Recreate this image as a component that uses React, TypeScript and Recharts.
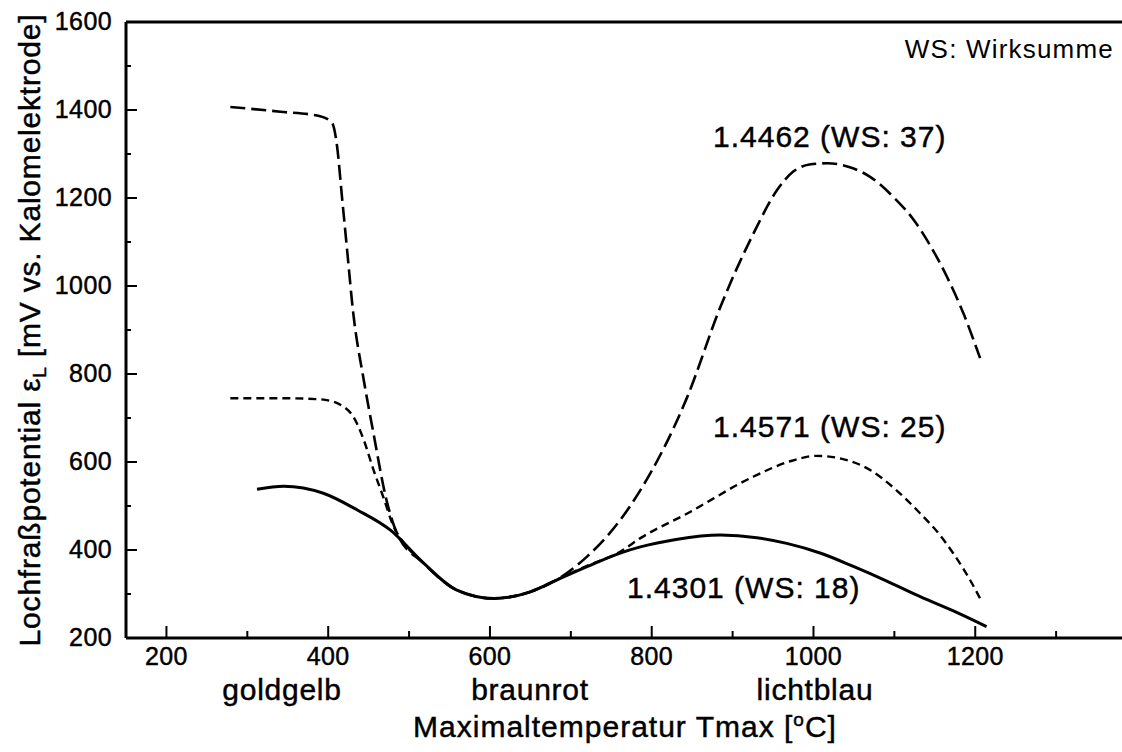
import React from 'react';
import { LineChart, Line, XAxis, YAxis, ReferenceLine } from 'recharts';

const FONT = '"Liberation Sans", Arial, Helvetica, sans-serif';

// Tmax [°C] and Lochfraßpotential [mV]
const T_14462 = [279, 341, 390, 405, 411, 417, 423, 431, 444, 456, 472, 485, 518, 559, 605, 650, 683, 720, 761, 786, 844, 885, 926, 955, 975, 995, 1017, 1045, 1070, 1100, 1124, 1145, 1165, 1186, 1206];
const E_14462 = [1407, 1396, 1386, 1370, 1317, 1203, 1089, 938, 786, 665, 514, 438, 370, 309, 290, 305, 333, 385, 468, 536, 748, 953, 1120, 1218, 1260, 1276, 1279, 1270, 1248, 1200, 1150, 1090, 1021, 935, 836];

const T_14571 = [279, 341, 385, 405, 415, 431, 444, 456, 468, 481, 490, 518, 559, 605, 650, 683, 720, 761, 786, 844, 926, 970, 1004, 1040, 1070, 1100, 1132, 1155, 1173, 1192, 1208];
const E_14571 = [745, 745, 743, 738, 730, 703, 650, 582, 521, 453, 425, 370, 309, 290, 305, 333, 364, 396, 427, 483, 567, 601, 614, 605, 582, 540, 483, 437, 392, 337, 283];

const T_14301 = [312, 345, 394, 436, 477, 518, 559, 605, 650, 683, 720, 761, 786, 830, 885, 930, 967, 1010, 1050, 1090, 1132, 1175, 1214];
const E_14301 = [538, 545, 529, 491, 445, 370, 309, 290, 305, 332, 362, 393, 407, 424, 434, 428, 415, 392, 362, 330, 294, 260, 226];

const X_TICKS = [200, 300, 400, 500, 600, 700, 800, 900, 1000, 1100, 1200, 1300];
const Y_TICKS = [200, 300, 400, 500, 600, 700, 800, 900, 1000, 1100, 1200, 1300, 1400, 1500, 1600];

const toRows = (t: number[], e: number[]) => t.map((v, i) => ({ t: v, e: e[i] }));

// slight stroke on the glyphs, the scanned original prints heavy
const heavy = { stroke: '#000', strokeWidth: 0.45 };

const XTick = ({ x, y, payload }: any) => {
  const major = payload.value % 200 === 0;
  return (
    <g>
      <line x1={x} x2={x} y1={y} y2={y - (major ? 12 : 7)} stroke="#000" strokeWidth={2} />
      {major && (
        <text x={x} y={y + 27} textAnchor="middle" fontSize={25} letterSpacing={0.4} fill="#000" {...heavy}>
          {payload.value}
        </text>
      )}
    </g>
  );
};

const YTick = ({ x, y, payload }: any) => {
  const major = payload.value % 200 === 0;
  return (
    <g>
      <line x1={x} x2={x + (major ? 11 : 5)} y1={y} y2={y} stroke="#000" strokeWidth={2} />
      {major && (
        <text x={x - 14} y={y + 8} textAnchor="end" fontSize={25} letterSpacing={0.4} fill="#000" {...heavy}>
          {payload.value}
        </text>
      )}
    </g>
  );
};

export default function App() {
  const axisLine = { stroke: '#000', strokeWidth: 3 };
  return (
    <div style={{ position: 'absolute', left: 0, top: 0, width: 1122, height: 752, overflow: 'hidden', background: '#fff', fontFamily: FONT }}>
      <LineChart width={1140} height={752} margin={{ top: 22, right: 3, bottom: 0, left: 0 }}>
        <XAxis
          type="number"
          dataKey="t"
          domain={[150, 1400]}
          ticks={X_TICKS}
          interval={0}
          allowDataOverflow
          height={114}
          axisLine={axisLine}
          tickLine={false}
          tickSize={0}
          tickMargin={0}
          tick={(p: any) => <XTick {...p} />}
        />
        <YAxis
          type="number"
          domain={[200, 1600]}
          ticks={Y_TICKS}
          interval={0}
          allowDataOverflow
          width={126}
          axisLine={axisLine}
          tickLine={false}
          tickSize={0}
          tickMargin={0}
          tick={(p: any) => <YTick {...p} />}
        />
        <ReferenceLine y={1600} stroke="#000" strokeWidth={3} />
        <Line data={toRows(T_14462, E_14462)} dataKey="e" type="monotone" stroke="#000" strokeWidth={2.6} strokeDasharray="15 6" dot={false} isAnimationActive={false} />
        <Line data={toRows(T_14571, E_14571)} dataKey="e" type="monotone" stroke="#000" strokeWidth={2.4} strokeDasharray="8 5" dot={false} isAnimationActive={false} />
        <Line data={toRows(T_14301, E_14301)} dataKey="e" type="monotone" stroke="#000" strokeWidth={3} dot={false} isAnimationActive={false} />
      </LineChart>

      <svg width={1122} height={752} style={{ position: 'absolute', left: 0, top: 0, pointerEvents: 'none' }}>
        <g fill="#000" fontSize={30} letterSpacing={1} {...heavy}>
          <text x={713} y={147}>1.4462 (WS: 37)</text>
          <text x={713} y={437}>1.4571 (WS: 25)</text>
          <text x={627} y={598}>1.4301 (WS: 18)</text>
        </g>
        <text x={1114} y={58} textAnchor="end" fontSize={26} letterSpacing={1.2} fill="#000">WS: Wirksumme</text>
        <g fill="#000" fontSize={30} letterSpacing={0.75} textAnchor="middle" {...heavy}>
          <text x={282} y={700}>goldgelb</text>
          <text x={530} y={700}>braunrot</text>
          <text x={815} y={700}>lichtblau</text>
        </g>
        <text x={625} y={737} textAnchor="middle" fontSize={30} letterSpacing={1} fill="#000" {...heavy}>
          Maximaltemperatur Tmax [<tspan fontSize={19} dy={-11}>o</tspan><tspan dy={11}>C]</tspan>
        </text>
        <text x={40} y={330} transform="rotate(-90 40 330)" textAnchor="middle" fontSize={30} letterSpacing={0.8} fill="#000" {...heavy}>
          Lochfraßpotential ε<tspan fontSize={19} dy={6}>L</tspan><tspan dy={-6}> [mV vs. Kalomelektrode]</tspan>
        </text>
      </svg>
    </div>
  );
}
